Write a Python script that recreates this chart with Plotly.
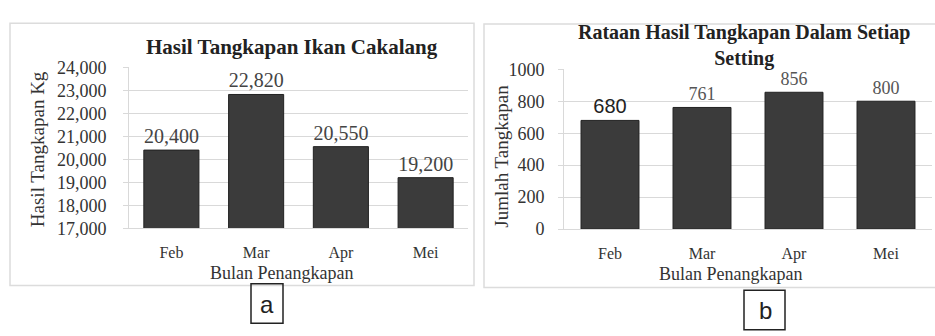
import plotly.graph_objects as go

W, H = 935, 336

# Data
bulan = ["Feb", "Mar", "Apr", "Mei"]
hasil_kg = [20400, 22820, 20550, 19200]
rataan_setting = [680, 761, 856, 800]

hasil_labels = ["20,400", "22,820", "20,550", "19,200"]
rataan_labels = ["680", "761", "856", "800"]

SERIF = "Liberation Serif, Times New Roman, serif"
SANS = "Liberation Sans, Arial, sans-serif"
BAR = "#3b3b3b"
GRID = "#d9d9d9"
TXT = "#333333"


def px(x):
    return x / W


def py(y):
    return 1 - y / H


fig = go.Figure()

fig.add_trace(go.Bar(
    x=bulan, y=hasil_kg, xaxis="x", yaxis="y",
    marker=dict(color=BAR, line=dict(color="#222222", width=1)),
    width=0.65, text=hasil_labels, textposition="outside",
    textfont=dict(family=SERIF, size=20, color="#444444"),
    cliponaxis=False, showlegend=False,
))
fig.add_trace(go.Bar(
    x=bulan, y=rataan_setting, xaxis="x2", yaxis="y2",
    marker=dict(color=BAR, line=dict(color="#222222", width=1)),
    width=0.63, text=rataan_labels, textposition="outside",
    textfont=dict(family=[SANS, SERIF, SERIF, SERIF],
                  size=[20, 18, 18, 18],
                  color=["#222222", "#555555", "#555555", "#555555"]),
    cliponaxis=False, showlegend=False,
))

xcommon = dict(
    type="category", showgrid=False, showline=True, linecolor=GRID, linewidth=1,
    ticks="", tickfont=dict(family=SERIF, size=16, color=TXT),
    ticklabelstandoff=10, fixedrange=True,
)
ycommon = dict(
    showgrid=True, gridcolor=GRID, gridwidth=1, zeroline=False,
    showline=True, linecolor=GRID, linewidth=1,
    ticks="outside", ticklen=5, tickcolor=GRID,
    tickfont=dict(family=SERIF, size=18, color=TXT), fixedrange=True,
)

fig.update_layout(
    width=W, height=H, margin=dict(l=0, r=0, t=0, b=0),
    paper_bgcolor="white", plot_bgcolor="white", bargap=0.35,
    xaxis=dict(domain=[px(129), px(468)], anchor="y", **xcommon),
    yaxis=dict(domain=[py(232), py(61)], anchor="x", range=[17000, 24000],
               dtick=1000, tickformat=",", ticklabelstandoff=13, **ycommon),
    xaxis2=dict(domain=[px(564), px(932)], anchor="y2", **xcommon),
    yaxis2=dict(domain=[py(233), py(63)], anchor="x2", range=[0, 1000],
                dtick=200, ticklabelstandoff=10, **ycommon),
)

# Panel frames and letter boxes
shapes = [
    dict(type="rect", xref="paper", yref="paper", x0=px(10), x1=px(474),
         y0=py(293), y1=py(14), line=dict(color="#dcdcdc", width=1.5)),
    dict(type="rect", xref="paper", yref="paper", x0=px(484), x1=px(940),
         y0=py(295), y1=py(15), line=dict(color="#dcdcdc", width=1.5)),
    dict(type="rect", xref="paper", yref="paper", x0=px(251), x1=px(283),
         y0=py(333), y1=py(291), line=dict(color="#222222", width=1.5)),
    dict(type="rect", xref="paper", yref="paper", x0=px(744), x1=px(785),
         y0=py(340), y1=py(298), line=dict(color="#222222", width=1.5)),
]
fig.update_layout(shapes=shapes)


def note(text, x, y, size, bold=False, angle=0, family=SERIF, color=TXT):
    fig.add_annotation(
        text=f"<b>{text}</b>" if bold else text,
        xref="paper", yref="paper", x=px(x), y=py(y),
        xanchor="center", yanchor="middle", showarrow=False,
        textangle=angle, font=dict(family=family, size=size, color=color),
    )


note("Hasil Tangkapan Ikan Cakalang", 292, 39, 21, bold=True, color="#222222")
note("<b>Rataan Hasil Tangkapan Dalam Setiap</b><br><b>Setting</b>", 744, 38, 20,
     color="#222222")
note("Hasil Tangkapan Kg", 37, 148, 19, angle=-90)
note("Jumlah Tangkapan", 502, 156, 19, angle=-90)
note("Bulan Penangkapan", 281, 280, 18)
note("Bulan Penangkapan", 730, 281, 18)
note("a", 267, 313, 24, family=SANS, color="#222222")
note("b", 765, 320, 24, family=SANS, color="#222222")

fig.write_html("out.html")
